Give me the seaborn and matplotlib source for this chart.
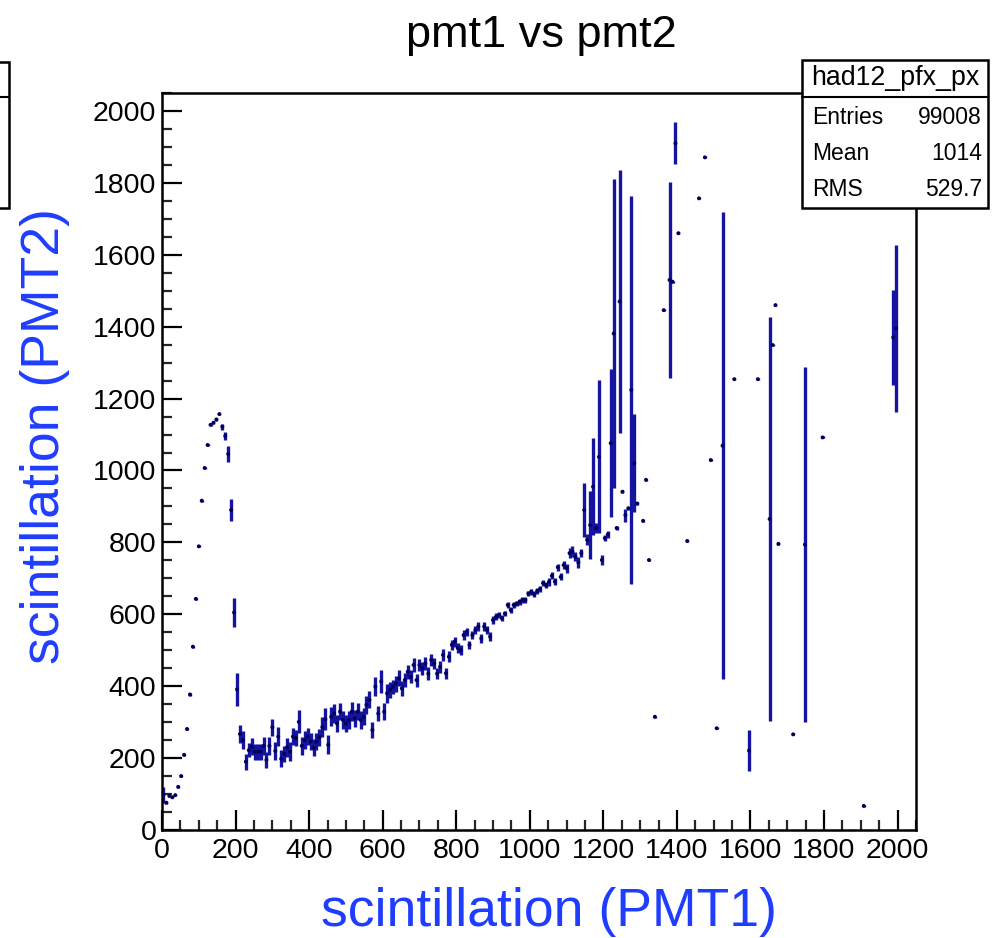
import numpy as np
import pandas as pd
import seaborn as sns
import matplotlib.pyplot as plt
from matplotlib.patches import Rectangle
from matplotlib.lines import Line2D
from matplotlib.ticker import MultipleLocator

# ---- data: profile bins (bin centre on PMT1, mean PMT2, error) ----
bin_x = [4, 12, 20, 28, 36, 44, 52, 60, 68, 76, 84, 92, 100, 108, 116, 124, 132, 140, 148, 156,
         164, 172, 180, 188, 196, 204, 212, 220, 228, 236, 244, 252, 260, 268, 276, 284, 292, 300,
         308, 316, 324, 332, 340, 348, 356, 364, 372, 380, 388, 396, 404, 412, 420, 428, 436, 444,
         452, 460, 468, 476, 484, 492, 500, 508, 516, 524, 532, 540, 548, 556, 564, 572, 580, 588,
         596, 604, 612, 620, 628, 636, 644, 652, 660, 668, 676, 684, 692, 700, 708, 716, 724, 732,
         740, 748, 756, 764, 772, 780, 788, 796, 804, 812, 820, 828, 836, 844, 852, 860, 868, 876,
         884, 892, 900, 908, 916, 924, 932, 940, 948, 956, 964, 972, 980, 988, 996, 1004, 1012,
         1020, 1028, 1036, 1044, 1052, 1060, 1068, 1076, 1084, 1092, 1100, 1108, 1116, 1124, 1132,
         1140, 1148, 1156, 1164, 1172, 1180, 1188, 1196, 1204, 1212, 1220, 1228, 1236, 1244, 1252,
         1260, 1268, 1276, 1284, 1292, 1308, 1316, 1324, 1340, 1364, 1380, 1388, 1396, 1404, 1428,
         1460, 1476, 1492, 1508, 1524, 1556, 1596, 1620, 1652, 1660, 1668, 1676, 1716, 1748, 1796,
         1908, 1988, 1996]
mean_y = [98, 76, 95, 91, 97, 120, 150, 209, 281, 377, 510, 643, 789, 916, 1007, 1071, 1127, 1133,
          1142, 1157, 1122, 1096, 1046, 890, 605, 391, 267, 250, 190, 222, 232, 218, 218, 218, 234,
          195, 234, 286, 220, 260, 198, 212, 230, 218, 260, 256, 301, 234, 250, 260, 246, 229, 246,
          258, 286, 308, 237, 315, 324, 296, 329, 306, 296, 306, 329, 311, 329, 306, 315, 348, 362,
          278, 399, 324, 413, 329, 380, 390, 398, 407, 422, 394, 417, 440, 426, 459, 417, 459, 450,
          463, 435, 473, 463, 435, 454, 487, 436, 482, 515, 524, 506, 501, 542, 551, 515, 542, 556,
          566, 533, 566, 556, 538, 584, 593, 598, 589, 602, 626, 612, 626, 630, 635, 640, 640, 658,
          663, 656, 665, 671, 687, 681, 690, 707, 691, 731, 704, 737, 728, 770, 774, 760, 744, 770,
          890, 807, 848, 955, 840, 1038, 751, 812, 822, 1076, 1381, 840, 1470, 941, 876, 895, 1224,
          1020, 908, 860, 974, 751, 315, 1446, 1530, 1525, 1910, 1660, 804, 1757, 1871, 1029, 283,
          1069, 1254, 221, 1254, 865, 1349, 1460, 796, 266, 794, 1092, 67, 1370, 1395]
err_y = [22, 3, 3, 3, 3, 3, 3, 3, 3, 3, 3, 3, 3, 3, 3, 3, 3, 3, 3, 3, 8, 12, 22, 30, 40, 45, 24,
         24, 22, 20, 24, 22, 22, 22, 24, 22, 24, 24, 26, 26, 24, 22, 27, 26, 24, 22, 32, 24, 26,
         24, 24, 24, 24, 24, 27, 30, 26, 27, 26, 24, 24, 24, 24, 24, 26, 24, 24, 24, 24, 24, 24,
         22, 27, 22, 32, 24, 27, 22, 20, 22, 22, 20, 20, 20, 18, 20, 18, 18, 18, 18, 18, 16, 16,
         16, 16, 16, 16, 16, 14, 14, 14, 14, 14, 12, 12, 12, 12, 12, 12, 12, 12, 12, 10, 10, 8, 8,
         8, 8, 8, 8, 8, 8, 8, 8, 8, 8, 8, 8, 8, 8, 8, 10, 10, 10, 10, 10, 10, 12, 14, 16, 12, 14, 12,
         75, 15, 95, 135, 15, 213, 15, 8, 10, 205, 430, 5, 366, 4, 18, 4, 540, 136, 3, 3, 3, 3, 3,
         3, 272, 3, 58, 3, 3, 3, 3, 3, 3, 649, 3, 56, 3, 563, 3, 3, 3, 3, 493, 3, 3, 132, 233]

title = "pmt1 vs pmt2"
x_title = "scintillation (PMT1)"
y_title = "scintillation (PMT2)"
stats_name = "had12_pfx_px"
stats_rows = [("Entries", "99008"), ("Mean", "1014"), ("RMS", "529.7")]

sns.set_style("ticks")
plt.rcParams['font.family'] = ['Liberation Sans', 'DejaVu Sans']
plt.rcParams['text.color'] = 'black'

W, H = 997, 938
fig = plt.figure(figsize=(W / 100, H / 100), dpi=100)
ax = fig.add_axes([162 / W, 1 - 830 / H, (916 - 162) / W, (830 - 93) / H])

df = pd.DataFrame({"x": bin_x, "y": mean_y, "e": err_y})
ax.vlines(df["x"], df["y"] - df["e"], df["y"] + df["e"], color="#1414a0", lw=2.4, zorder=2)
sns.scatterplot(data=df, x="x", y="y", ax=ax, s=8, color="#00005a", edgecolor="none",
                marker="o", zorder=3, legend=False)

ax.set_xlim(0, 2050)
ax.set_ylim(0, 2050)
ax.set_xlabel("")
ax.set_ylabel("")
ax.xaxis.set_major_locator(MultipleLocator(200))
ax.xaxis.set_minor_locator(MultipleLocator(50))
ax.yaxis.set_major_locator(MultipleLocator(200))
ax.yaxis.set_minor_locator(MultipleLocator(50))
ax.set_xticks(np.arange(0, 2001, 200))
ax.set_yticks(np.arange(0, 2001, 200))
ax.tick_params(axis="both", which="major", direction="in", length=14.4, width=1.6,
               labelsize=20.5, colors="black", labelcolor="black", top=False, right=False)
ax.tick_params(axis="both", which="minor", direction="in", length=7.2, width=1.6,
               top=False, right=False)
ax.tick_params(axis="x", which="major", pad=6)
ax.tick_params(axis="y", which="major", pad=4)
for s in ax.spines.values():
    s.set_visible(True)
    s.set_linewidth(1.8)
    s.set_color("black")

fig.text(541 / W, 1 - 35 / H, title, ha="center", va="center", fontsize=32.5, color="black")
fig.text(549 / W, 1 - 912 / H, x_title, ha="center", va="center", fontsize=38.5, color="#1f3dff")
fig.text(45 / W, 1 - 436 / H, y_title, ha="center", va="center", fontsize=38.5, color="#1f3dff",
         rotation=90)

# stats box
def fx(px):
    return px / W

def fy(py):
    return 1 - py / H

fig.patches.append(Rectangle((fx(802), fy(208)), fx(988) - fx(802), fy(60) - fy(208),
                             transform=fig.transFigure, facecolor="white", edgecolor="black",
                             lw=1.8, zorder=10))
fig.lines.append(Line2D([fx(802), fx(988)], [fy(97), fy(97)], transform=fig.transFigure,
                        color="black", lw=1.5, zorder=11))
fig.text(fx(895), fy(78), stats_name, ha="center", va="center", fontsize=19.3, color="black",
         zorder=12)
for i, (k, v) in enumerate(stats_rows):
    yy = fy(118 + 36 * i)
    fig.text(fx(812), yy, k, ha="left", va="center", fontsize=16.5, color="black", zorder=12)
    fig.text(fx(982), yy, v, ha="right", va="center", fontsize=16.5, color="black", zorder=12)

# partially visible box on the left edge
fig.patches.append(Rectangle((fx(-20), fy(208)), fx(9) - fx(-20), fy(62) - fy(208),
                             transform=fig.transFigure, facecolor="white", edgecolor="black",
                             lw=1.8, zorder=10))
fig.lines.append(Line2D([0, fx(9)], [fy(97), fy(97)], transform=fig.transFigure,
                        color="black", lw=1.5, zorder=11))

fig.savefig("out.png", dpi=100, facecolor="white")
